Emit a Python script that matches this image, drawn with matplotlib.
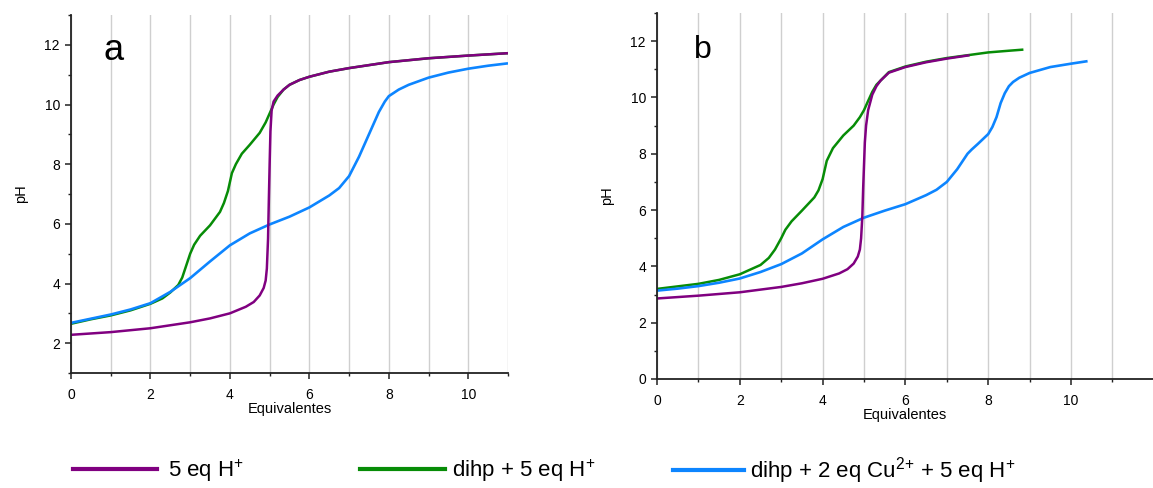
import matplotlib
matplotlib.use("Agg")
import matplotlib.pyplot as plt
from matplotlib.ticker import MultipleLocator
from matplotlib.lines import Line2D

plt.rcParams['font.family'] = ['Liberation Sans', 'DejaVu Sans']
plt.rcParams['mathtext.default'] = 'regular'

# ---------------- data (panel a) ----------------
a_h_x = [0, 1, 2, 3, 3.5, 4, 4.4, 4.6, 4.75, 4.85, 4.9, 4.93, 4.96, 4.98, 5.0, 5.02, 5.05,
         5.1, 5.2, 5.35, 5.5, 5.75, 6, 6.5, 7, 8, 9, 10, 11]
a_h_y = [2.28, 2.37, 2.5, 2.70, 2.83, 3.0, 3.22, 3.38, 3.6, 3.85, 4.1, 4.5, 5.5, 6.8, 8.0, 9.1, 9.8,
         10.1, 10.3, 10.5, 10.66, 10.82, 10.93, 11.1, 11.22, 11.42, 11.55, 11.64, 11.72]

a_d_x = [0, 0.5, 1, 1.5, 2, 2.3, 2.5, 2.7, 2.8, 2.9, 3.0, 3.1, 3.25, 3.5, 3.75, 3.85, 3.95, 4.05,
         4.15, 4.3, 4.5, 4.75, 4.9, 5.0, 5.1, 5.2, 5.35, 5.5, 5.75, 6, 6.5, 7, 8, 9, 10, 11]
a_d_y = [2.65, 2.8, 2.93, 3.1, 3.32, 3.5, 3.7, 3.95, 4.2, 4.6, 5.0, 5.3, 5.6, 5.95, 6.4, 6.7, 7.1, 7.7,
         8.0, 8.35, 8.65, 9.05, 9.4, 9.7, 10.0, 10.25, 10.5, 10.66, 10.82, 10.93, 11.1, 11.22, 11.42,
         11.55, 11.64, 11.72]

a_c_x = [0, 0.5, 1, 1.5, 2, 2.5, 3, 3.5, 4, 4.5, 5, 5.5, 6, 6.5, 6.75, 7, 7.25, 7.5, 7.75, 7.9,
         8, 8.25, 8.5, 9, 9.5, 10, 10.5, 11]
a_c_y = [2.68, 2.82, 2.96, 3.13, 3.34, 3.72, 4.18, 4.74, 5.28, 5.68, 5.98, 6.24, 6.55, 6.95, 7.2,
         7.6, 8.25, 9.0, 9.75, 10.1, 10.28, 10.5, 10.66, 10.9, 11.07, 11.2, 11.3, 11.38]

# ---------------- data (panel b) ----------------
b_h_x = [0, 1, 2, 3, 3.5, 4, 4.4, 4.6, 4.75, 4.85, 4.9, 4.93, 4.96, 4.98, 5.0, 5.02, 5.05, 5.1,
         5.2, 5.3, 5.4, 5.6, 6, 6.5, 7, 7.55]
b_h_y = [2.86, 2.96, 3.08, 3.27, 3.4, 3.56, 3.75, 3.9, 4.1, 4.35, 4.6, 5.0, 5.8, 6.8, 7.6, 8.4, 9.0,
         9.55, 10.1, 10.4, 10.6, 10.88, 11.08, 11.25, 11.38, 11.5]

b_d_x = [0, 1, 1.5, 2, 2.5, 2.7, 2.85, 3.0, 3.1, 3.25, 3.5, 3.8, 3.9, 4.0, 4.1, 4.25, 4.5, 4.75,
         4.9, 5.0, 5.1, 5.2, 5.3, 5.4, 5.6, 6, 6.5, 7, 7.5, 8, 8.5, 8.85]
b_d_y = [3.2, 3.38, 3.52, 3.72, 4.05, 4.3, 4.6, 5.0, 5.3, 5.6, 5.98, 6.45, 6.7, 7.1, 7.75, 8.2, 8.65,
         9.0, 9.3, 9.55, 9.88, 10.2, 10.45, 10.6, 10.9, 11.1, 11.27, 11.4, 11.5, 11.6, 11.66, 11.7]

b_c_x = [0, 0.5, 1, 1.5, 2, 2.5, 3, 3.5, 4, 4.5, 5, 5.5, 6, 6.5, 6.75, 7, 7.25, 7.5, 7.6, 7.75,
         8, 8.1, 8.2, 8.3, 8.4, 8.5, 8.6, 8.75, 9, 9.5, 10, 10.4]
b_c_y = [3.14, 3.21, 3.3, 3.42, 3.57, 3.8, 4.08, 4.46, 4.96, 5.4, 5.73, 5.98, 6.21, 6.53, 6.72,
         7.0, 7.45, 8.0, 8.15, 8.35, 8.7, 8.95, 9.3, 9.8, 10.15, 10.4, 10.55, 10.7, 10.87, 11.08,
         11.2, 11.29]

labels = ['5 eq H$^{+}$', 'dihp + 5 eq H$^{+}$', 'dihp + 2 eq Cu$^{2{+}}$ + 5 eq H$^{+}$']
colors = ['#800080', '#078C07', '#0D85FF']
panel_letters = ['a', 'b']

fig = plt.figure(figsize=(11.53, 4.88), dpi=100)
ax1 = fig.add_axes([71 / 1153, 1 - 373 / 488, 437 / 1153, 358 / 488])
ax2 = fig.add_axes([657 / 1153, 1 - 379 / 488, 496 / 1153, 366 / 488])

panels = [
    (ax1, (a_h_x, a_h_y), (a_d_x, a_d_y), (a_c_x, a_c_y), (0, 11), (1, 13), panel_letters[0], 26),
    (ax2, (b_h_x, b_h_y), (b_d_x, b_d_y), (b_c_x, b_c_y), (0, 11.98), (0, 13), panel_letters[1], 23),
]

for ax, h, d, c, xl, yl, letter, lsz in panels:
    ax.plot(d[0], d[1], color=colors[1], lw=1.8, solid_capstyle='butt')
    ax.plot(c[0], c[1], color=colors[2], lw=1.9, solid_capstyle='butt')
    ax.plot(h[0], h[1], color=colors[0], lw=1.8, solid_capstyle='butt')
    ax.set_xlim(*xl)
    ax.set_ylim(*yl)
    ax.xaxis.set_major_locator(MultipleLocator(2))
    ax.xaxis.set_minor_locator(MultipleLocator(1))
    ax.yaxis.set_major_locator(MultipleLocator(2))
    ax.yaxis.set_minor_locator(MultipleLocator(1))
    ax.grid(True, axis='x', which='both', color='#cfcfcf', lw=1.0)
    ax.set_axisbelow(True)
    for s in ['top', 'right']:
        ax.spines[s].set_visible(False)
    for s in ['left', 'bottom']:
        ax.spines[s].set_linewidth(1.3)
        ax.spines[s].set_color('#222222')
    ax.tick_params(which='major', direction='out', length=4, width=1.1, labelsize=10,
                   color='#222222')
    ax.tick_params(axis='x', which='major', pad=7)
    ax.tick_params(axis='y', which='major', pad=4)
    ax.tick_params(which='minor', direction='out', length=2.5, width=1.0, color='#222222')
    ax.set_ylabel('pH', fontsize=10.5, labelpad=12)
    ax.set_xlabel('Equivalentes', fontsize=10.5, labelpad=0)
    ax.text(0.075, 0.9, letter, transform=ax.transAxes, fontsize=lsz, va='center', ha='left')

# legend (three separate entries placed along the bottom)
x_pos = [73, 360, 673]
h_len = [84, 85, 71]
h_pad = [11, 7, 6]
fs_pt = 16
fs_px = fs_pt * 100 / 72
for lab, col, xp, hl, hp in zip(labels, colors, x_pos, h_len, h_pad):
    h = Line2D([], [], color=col, lw=3.0)
    fig.legend([h], [lab], loc='center left', bbox_to_anchor=(xp / 1153, 1 - 471 / 488),
               frameon=False, handlelength=hl / fs_px, handletextpad=hp / fs_px,
               borderaxespad=0, borderpad=0, prop={'size': fs_pt})

fig.savefig('out.png', dpi=100)
